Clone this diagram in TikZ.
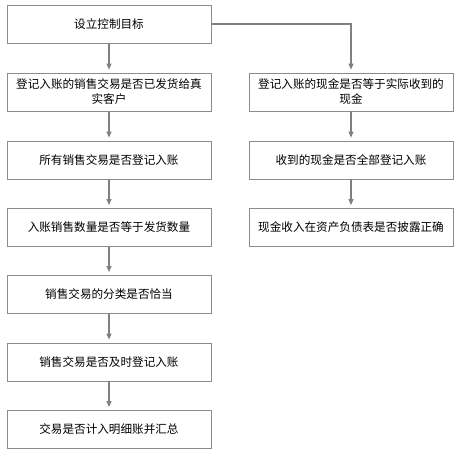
\documentclass[tikz,border=0pt]{standalone}
\usepackage{fontspec}
\usepackage{tikz}
\usetikzlibrary{arrows.meta}
\newfontfamily\cjk{Noto Sans CJK SC}

\tikzset{
	kuang/.style={draw=gray!90, line width=0.8pt, minimum width=204pt, minimum height=38pt,
		align=center, inner sep=0pt, font=\cjk\fontsize{11.6pt}{15pt}\selectfont},
	jiantou/.style={draw=gray, line width=1.1pt, -{Triangle[width=5pt,length=6pt]}, shorten >=3pt}
}

\begin{document}
\begin{tikzpicture}[x=1pt,y=1pt]
	% 画布大小
	\useasboundingbox (0,0) rectangle (464,-454);
	
	% 左列:销售交易的控制目标
	\node[kuang] (mubiao) at (109,-24) {设立控制目标};
	\node[kuang] (fahuo) at (109,-92) {登记入账的销售交易是否已发货给真\\实客户};
	\node[kuang] (dengji) at (109,-160) {所有销售交易是否登记入账};
	\node[kuang] (shuliang) at (109,-227.5) {入账销售数量是否等于发货数量};
	\node[kuang] (fenlei) at (109,-294.5) {销售交易的分类是否恰当};
	\node[kuang] (jishi) at (109,-362) {销售交易是否及时登记入账};
	\node[kuang] (huizong) at (109,-429.5) {交易是否计入明细账并汇总};
	
	% 右列:现金收入的控制目标
	\node[kuang] (xianjin) at (351,-92) {登记入账的现金是否等于实际收到的\\现金};
	\node[kuang] (quanbu) at (351,-160) {收到的现金是否全部登记入账};
	\node[kuang] (pilu) at (351,-227.5) {现金收入在资产负债表是否披露正确};
	
	% 左列的箭头
	\draw[jiantou] (mubiao) -- (fahuo);
	\draw[jiantou] (fahuo) -- (dengji);
	\draw[jiantou] (dengji) -- (shuliang);
	\draw[jiantou] (shuliang) -- (fenlei);
	\draw[jiantou] (fenlei) -- (jishi);
	\draw[jiantou] (jishi) -- (huizong);
	
	% 从目标向右折到右列
	\draw[jiantou] (mubiao.east) -| (xianjin.north);
	% 右列的箭头
	\draw[jiantou] (xianjin) -- (quanbu);
	\draw[jiantou] (quanbu) -- (pilu);
\end{tikzpicture}
\end{document}
